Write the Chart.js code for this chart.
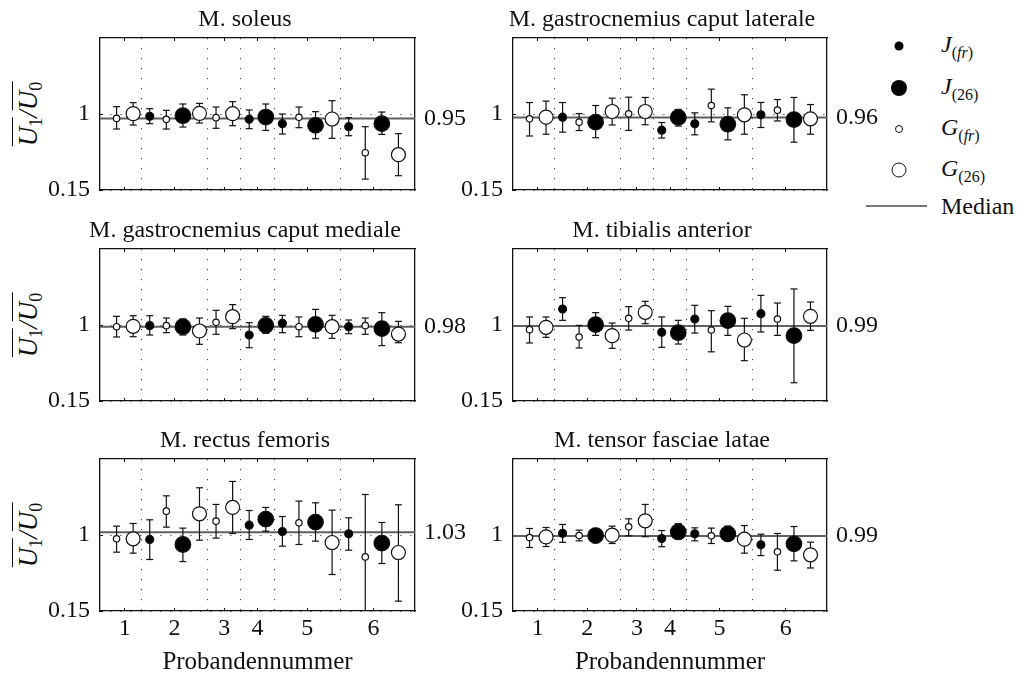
<!DOCTYPE html>
<html lang="de">
<head>
<meta charset="UTF-8">
<title>Verhältnis U1/U0 je Muskel und Proband</title>
<script src="https://cdn.jsdelivr.net/npm/chart.js"></script>
<style>
  body { margin:0; width:1025px; height:675px; overflow:hidden; position:relative; background:#fff; color:#111; font-family:'Liberation Serif', serif; }
  canvas { position:absolute; }
  .ylab { position:absolute; left:27px; transform:translate(-50%,-50%) rotate(-90deg); font-size:27px; font-style:italic; white-space:nowrap; line-height:1; }
  .ov { display:inline-block; border-top:1.6px solid #111; padding-top:2px; }
  .ylab .sb { font-size:18px; font-style:normal; position:relative; top:5px; }
  .mk { position:absolute; border-radius:50%; box-sizing:border-box; transform:translate(-50%,-50%); }
  .lt { position:absolute; left:941px; font-size:24px; line-height:1; transform:translateY(-50%); white-space:nowrap; }
  .lt .sb { font-size:16px; position:relative; top:6px; }
  .med { position:absolute; left:866px; width:61px; height:2px; background:#777; }
</style>
</head>
<body>
<div class="ylab" style="top:114px"><span class="ov">U<span class="sb">1</span></span>/<span class="ov">U<span class="sb">0</span></span></div>
<div class="ylab" style="top:325px"><span class="ov">U<span class="sb">1</span></span>/<span class="ov">U<span class="sb">0</span></span></div>
<div class="ylab" style="top:535px"><span class="ov">U<span class="sb">1</span></span>/<span class="ov">U<span class="sb">0</span></span></div>

<div class="mk" style="left:899px;top:46px;width:9px;height:9px;background:#000"></div>
<div class="lt" style="top:44px"><i>J</i><span class="sb">(<i>fr</i>)</span></div>
<div class="mk" style="left:899px;top:88px;width:16px;height:16px;background:#000"></div>
<div class="lt" style="top:86px"><i>J</i><span class="sb">(26)</span></div>
<div class="mk" style="left:899px;top:129px;width:8px;height:8px;background:#fff;border:1.2px solid #111"></div>
<div class="lt" style="top:127px"><i>G</i><span class="sb">(<i>fr</i>)</span></div>
<div class="mk" style="left:899px;top:170px;width:15px;height:15px;background:#fff;border:1.2px solid #111"></div>
<div class="lt" style="top:168px"><i>G</i><span class="sb">(26)</span></div>
<div class="med" style="top:205px"></div>
<div class="lt" style="top:206px">Median</div>

<script>
// slot 1..18 along the x axis, grouped by subject
const slotSeries = ['Gfr','G26','Jfr','Gfr','J26','G26','Gfr','G26','Jfr','J26','Jfr','Gfr','J26','G26','Jfr','Gfr','J26','G26'];
const subjectTicks = [1.5, 4.5, 7.5, 9.5, 12.5, 16.5];
const subjectLabels = ['1', '2', '3', '4', '5', '6'];
const subjectBounds = [2.5, 6.5, 8.5, 10.5, 14.5];
const yTicks = [0.15, 1];

const soleusMedian = 0.95;
const soleusMean  = [0.951, 1.004, 0.974, 0.940, 0.981, 1.007, 0.959, 1.004, 0.940, 0.966, 0.892, 0.963, 0.873, 0.944, 0.858, 0.567, 0.892, 0.545];
const soleusLower = [0.832, 0.877, 0.892, 0.832, 0.854, 0.899, 0.840, 0.869, 0.836, 0.817, 0.776, 0.847, 0.724, 0.728, 0.757, 0.272, 0.772, 0.310];
const soleusUpper = [1.082, 1.127, 1.060, 1.041, 1.112, 1.119, 1.078, 1.138, 1.045, 1.112, 1.000, 1.078, 1.026, 1.149, 0.959, 0.858, 1.022, 0.780];

const latMedian = 0.96;
const latMean  = [0.946, 0.965, 0.965, 0.909, 0.909, 1.028, 1.002, 1.028, 0.819, 0.962, 0.890, 1.095, 0.886, 0.991, 0.991, 1.043, 0.938, 0.946];
const latLower = [0.754, 0.774, 0.797, 0.815, 0.735, 0.877, 0.817, 0.880, 0.731, 0.865, 0.767, 0.912, 0.711, 0.774, 0.849, 0.922, 0.685, 0.774];
const latUpper = [1.128, 1.144, 1.128, 1.004, 1.095, 1.177, 1.188, 1.185, 0.905, 1.051, 1.013, 1.278, 1.069, 1.215, 1.129, 1.162, 1.185, 1.106];

const medMedian = 0.98;
const medMean  = [0.981, 0.985, 0.993, 0.993, 0.981, 0.933, 1.030, 1.093, 0.888, 0.996, 1.019, 0.981, 1.007, 0.981, 0.981, 0.993, 0.959, 0.899];
const medLower = [0.866, 0.869, 0.888, 0.914, 0.888, 0.784, 0.896, 0.959, 0.746, 0.907, 0.914, 0.869, 0.854, 0.851, 0.903, 0.896, 0.769, 0.802];
const medUpper = [1.097, 1.104, 1.104, 1.078, 1.067, 1.078, 1.164, 1.228, 1.026, 1.097, 1.108, 1.090, 1.175, 1.108, 1.056, 1.078, 1.138, 1.041];

const tibMedian = 0.99;
const tibMean  = [0.948, 0.974, 1.179, 0.866, 1.004, 0.881, 1.075, 1.142, 0.918, 0.914, 1.067, 0.944, 1.049, 0.832, 1.127, 1.067, 0.881, 1.097];
const tibLower = [0.799, 0.862, 1.052, 0.743, 0.884, 0.739, 0.944, 1.015, 0.750, 0.787, 0.910, 0.700, 0.884, 0.601, 0.922, 0.884, 0.354, 0.940];
const tibUpper = [1.090, 1.090, 1.306, 0.996, 1.138, 1.022, 1.205, 1.265, 1.090, 1.052, 1.220, 1.160, 1.209, 1.075, 1.332, 1.246, 1.403, 1.257];

const recMedian = 1.03;
const recMean  = [0.957, 0.957, 0.950, 1.267, 0.894, 1.237, 1.155, 1.308, 1.110, 1.177, 1.039, 1.136, 1.144, 0.916, 1.013, 0.755, 0.909, 0.804];
const recLower = [0.808, 0.797, 0.726, 1.088, 0.703, 0.942, 0.965, 1.017, 0.950, 1.043, 0.875, 0.894, 0.931, 0.558, 0.830, 0.120, 0.681, 0.260];
const recUpper = [1.099, 1.129, 1.170, 1.438, 1.077, 1.528, 1.342, 1.599, 1.274, 1.308, 1.207, 1.379, 1.360, 1.278, 1.192, 1.453, 1.140, 1.338];

const tflMedian = 0.99;
const tflMean  = [0.972, 0.979, 1.019, 0.994, 0.994, 0.998, 1.091, 1.159, 0.961, 1.034, 1.013, 0.991, 1.013, 0.953, 0.890, 0.812, 0.901, 0.778];
const tflLower = [0.860, 0.871, 0.918, 0.935, 0.914, 0.905, 0.991, 0.981, 0.869, 0.957, 0.935, 0.905, 0.935, 0.797, 0.770, 0.606, 0.711, 0.631];
const tflUpper = [1.073, 1.084, 1.118, 1.054, 1.073, 1.099, 1.181, 1.342, 1.050, 1.127, 1.080, 1.077, 1.099, 1.106, 1.009, 1.017, 1.095, 0.920];

const panels = [
  { title: 'M. soleus', mean: soleusMean, lower: soleusLower, upper: soleusUpper, median: soleusMedian },
  { title: 'M. gastrocnemius caput laterale', mean: latMean, lower: latLower, upper: latUpper, median: latMedian },
  { title: 'M. gastrocnemius caput mediale', mean: medMean, lower: medLower, upper: medUpper, median: medMedian },
  { title: 'M. tibialis anterior', mean: tibMean, lower: tibLower, upper: tibUpper, median: tibMedian },
  { title: 'M. rectus femoris', mean: recMean, lower: recLower, upper: recUpper, median: recMedian },
  { title: 'M. tensor fasciae latae', mean: tflMean, lower: tflLower, upper: tflUpper, median: tflMedian }
];

Chart.defaults.font.family = "'Liberation Serif', serif";
Chart.defaults.font.size = 24;
Chart.defaults.color = '#111';

const ink = '#111';
const dots = [1.2, 8.8];
const txt = { size: 24, lineHeight: 1 };

const markerStyle = {
  Jfr: { radius: 4, fill: '#000' },
  J26: { radius: 7.8, fill: '#000' },
  Gfr: { radius: 3.2, fill: '#fff' },
  G26: { radius: 7, fill: '#fff' }
};

// panel geometry: plot box starts 100px into the canvas and 40px below its top
const colLeft = [0, 413], colWidth = [490, 498], colRight = [75, 84];
const rowTop = [38, 249, 459];
const plotH = 152;

function useTicks(values) {
  return scale => { scale.ticks = values.map(value => ({ value })); };
}

panels.forEach((p, k) => {
  const col = k % 2, row = Math.floor(k / 2), last = row === 2;
  const below = last ? 64 : 10;

  const cv = document.createElement('canvas');
  cv.width = colWidth[col];
  cv.height = 40 + plotH + below;
  cv.style.left = colLeft[col] + 'px';
  cv.style.top = (rowTop[row] - 40) + 'px';
  document.body.appendChild(cv);

  const datasets = [];
  Object.keys(markerStyle).forEach(key => {
    const st = markerStyle[key];
    datasets.push({
      data: slotSeries.map((s, i) => s === key ? { x: i + 1, y: p.mean[i] } : null).filter(Boolean),
      pointRadius: st.radius,
      pointBackgroundColor: st.fill,
      pointBorderColor: ink,
      pointBorderWidth: 1.2,
      order: 0
    });
  });

  // error bar stems, broken by null rows
  const stems = [];
  p.mean.forEach((_, i) => {
    stems.push({ x: i + 1, y: p.lower[i] }, { x: i + 1, y: p.upper[i] }, { x: i + 1, y: null });
  });
  datasets.push({ data: stems, showLine: true, spanGaps: false, borderColor: ink, borderWidth: 1.2, pointRadius: 0, order: 1 });

  const caps = p.mean.flatMap((_, i) => [{ x: i + 1, y: p.lower[i] }, { x: i + 1, y: p.upper[i] }]);
  datasets.push({ data: caps, pointStyle: 'line', pointRadius: 3.5, pointBorderColor: ink, pointBorderWidth: 1.2, order: 1 });

  datasets.push({
    data: [{ x: 0, y: p.median }, { x: 19, y: p.median }],
    showLine: true, borderColor: '#5f5f5f', borderWidth: 2, pointRadius: 0, order: 2
  });

  datasets.forEach(d => { d.xAxisID = 'x'; d.yAxisID = 'y'; });

  new Chart(cv, {
    type: 'scatter',
    data: { datasets },
    options: {
      responsive: false,
      animation: false,
      events: [],
      layout: { padding: 0 },
      plugins: {
        legend: { display: false },
        tooltip: { enabled: false },
        title: { display: true, text: p.title, color: ink, font: { size: 24, weight: 'normal', lineHeight: 1 }, padding: { top: 9.5, bottom: 0 } }
      },
      scales: {
        x: {
          type: 'linear', position: 'bottom', min: 0, max: 19,
          afterBuildTicks: useTicks(subjectTicks),
          afterFit: s => { s.height = below; s.paddingLeft = 0; s.paddingRight = 0; },
          ticks: { display: last, autoSkip: false, maxRotation: 0, padding: 9, font: txt, color: ink,
                   callback: (v, i) => subjectLabels[i] },
          grid: { drawOnChartArea: false, tickLength: -3, tickColor: ink, tickWidth: 1 },
          border: { display: true, color: ink, width: 1.3 },
          title: { display: last, text: 'Probandennummer', color: ink, font: { size: 25, lineHeight: 1 }, padding: { top: 0, bottom: 0.5 } }
        },
        xTop: {
          type: 'linear', position: 'top', min: 0, max: 19,
          afterBuildTicks: useTicks(subjectTicks),
          afterFit: s => { s.height = 6.5; s.paddingLeft = 0; s.paddingRight = 0; },
          ticks: { display: false },
          grid: { drawOnChartArea: false, tickLength: -3, tickColor: ink, tickWidth: 1 },
          border: { display: true, color: ink, width: 1.3 }
        },
        xGrid: {
          type: 'linear', position: 'bottom', min: 0, max: 19,
          afterBuildTicks: useTicks(subjectBounds),
          afterFit: s => { s.height = 0; s.paddingLeft = 0; s.paddingRight = 0; },
          ticks: { display: false },
          grid: { drawTicks: false, color: '#444', lineWidth: 1 },
          border: { display: false, dash: dots }
        },
        y: {
          type: 'linear', position: 'left', min: 0.15, max: 1.85,
          afterBuildTicks: useTicks(yTicks),
          afterFit: s => { s.width = 100; s.paddingTop = 0; s.paddingBottom = 0; },
          ticks: { padding: 13, font: txt, color: ink, callback: v => String(v) },
          grid: { color: '#444', lineWidth: 1, tickLength: -3, tickColor: ink, tickWidth: 1 },
          border: { display: true, color: ink, width: 1.3, dash: dots }
        },
        yMed: {
          type: 'linear', position: 'right', min: 0.15, max: 1.85,
          afterBuildTicks: useTicks([p.median]),
          afterFit: s => { s.width = colRight[col]; s.paddingTop = 0; s.paddingBottom = 0; },
          ticks: { padding: 9, font: txt, color: ink, callback: v => v.toFixed(2) },
          grid: { display: false, drawTicks: false },
          border: { display: true, color: ink, width: 1.3 }
        }
      }
    }
  });
});
</script>
</body>
</html>
